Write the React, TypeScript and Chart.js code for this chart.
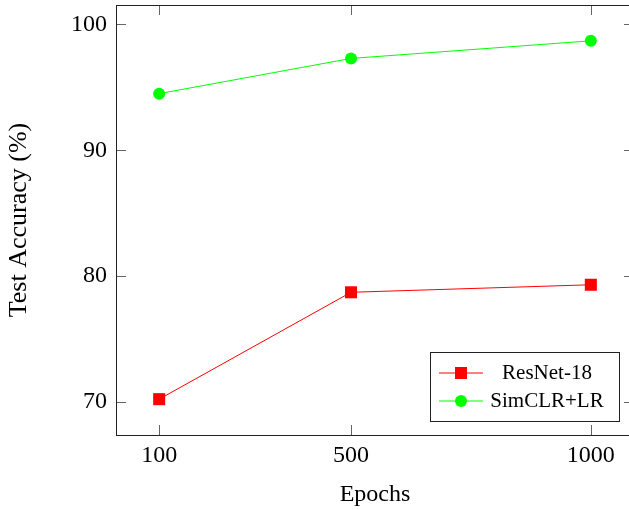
import React, { useEffect, useRef } from "react";
import { Chart, registerables } from "chart.js";

Chart.register(...registerables);

const epochs = [100, 500, 1000];
const resnet18 = [70.2, 78.7, 79.3];
const simclrLR = [94.5, 97.3, 98.7];
const xTicks = [100, 500, 1000];
const yTicks = [70, 80, 90, 100];
const seriesNames = ["ResNet-18", "SimCLR+LR"];

const FONT = "'Liberation Serif', 'Times New Roman', serif";

const framePlugin = {
  id: "pgfFrame",
  beforeDatasetsDraw(chart: any) {
    const { ctx, chartArea: a, scales } = chart;
    const x = scales.x;
    const y = scales.y;
    ctx.save();
    ctx.strokeStyle = "#666";
    ctx.lineWidth = 1;
    const tl = 10;
    ctx.beginPath();
    xTicks.forEach((v) => {
      const px = Math.round(x.getPixelForValue(v)) + 0.5;
      ctx.moveTo(px, a.bottom);
      ctx.lineTo(px, a.bottom - tl);
      ctx.moveTo(px, a.top);
      ctx.lineTo(px, a.top + tl);
    });
    yTicks.forEach((v) => {
      const py = Math.round(y.getPixelForValue(v)) + 0.5;
      ctx.moveTo(a.left, py);
      ctx.lineTo(a.left + tl, py);
      ctx.moveTo(a.right, py);
      ctx.lineTo(a.right - tl, py);
    });
    ctx.stroke();
    ctx.strokeStyle = "#222";
    ctx.strokeRect(Math.round(a.left) + 0.5, Math.round(a.top) + 0.5, Math.round(a.right - a.left), Math.round(a.bottom - a.top));
    ctx.restore();
  },
  afterDraw(chart: any) {
    const { ctx } = chart;
    const bx = 430.5, by = 352.5, bw = 189, bh = 69;
    ctx.save();
    ctx.fillStyle = "#fff";
    ctx.fillRect(bx, by, bw, bh);
    ctx.strokeStyle = "#222";
    ctx.lineWidth = 1;
    ctx.strokeRect(bx, by, bw, bh);
    const rows = [373, 401];
    const colors = ["#ff0000", "#00ff00"];
    rows.forEach((ry, i) => {
      ctx.strokeStyle = colors[i];
      ctx.fillStyle = colors[i];
      ctx.beginPath();
      ctx.moveTo(439, ry);
      ctx.lineTo(483, ry);
      ctx.stroke();
      if (i === 0) {
        ctx.fillRect(461 - 6, ry - 6, 12, 12);
      } else {
        ctx.beginPath();
        ctx.arc(461, ry, 6, 0, Math.PI * 2);
        ctx.fill();
      }
      ctx.fillStyle = "#000";
      ctx.font = `21px ${FONT}`;
      ctx.textAlign = "center";
      ctx.textBaseline = "middle";
      ctx.fillText(seriesNames[i], 547, ry);
    });
    ctx.restore();
  },
};

const zeroPad = (s: any) => {
  s.paddingTop = 0;
  s.paddingBottom = 0;
  s.paddingLeft = 0;
  s.paddingRight = 0;
};

export default function App() {
  const ref = useRef<HTMLCanvasElement | null>(null);
  useEffect(() => {
    document.body.style.overflow = "hidden";
    const chart = new Chart(ref.current as HTMLCanvasElement, {
      type: "line",
      data: {
        datasets: [
          {
            label: seriesNames[0],
            data: epochs.map((e, i) => ({ x: e, y: resnet18[i] })),
            borderColor: "#ff0000",
            backgroundColor: "#ff0000",
            borderWidth: 1,
            pointStyle: "rect",
            pointRadius: 8.5,
            pointBorderWidth: 0,
            tension: 0,
          },
          {
            label: seriesNames[1],
            data: epochs.map((e, i) => ({ x: e, y: simclrLR[i] })),
            borderColor: "#00ff00",
            backgroundColor: "#00ff00",
            borderWidth: 1,
            pointStyle: "circle",
            pointRadius: 6,
            pointBorderWidth: 0,
            tension: 0,
          },
        ],
      },
      options: {
        animation: false,
        responsive: false,
        maintainAspectRatio: false,
        layout: { autoPadding: false, padding: { top: 5, right: 6, left: 0, bottom: 0 } },
        plugins: { legend: { display: false }, tooltip: { enabled: false } },
        scales: {
          x: {
            type: "linear",
            min: 10,
            max: 1090,
            grid: { display: false, drawTicks: false },
            border: { display: false },
            afterBuildTicks: (s: any) => {
              s.ticks = xTicks.map((v) => ({ value: v }));
            },
            afterFit: (s: any) => {
              s.height = 75;
              zeroPad(s);
            },
            ticks: {
              color: "#000",
              font: { family: FONT, size: 24 },
              padding: 6,
              maxRotation: 0,
              autoSkip: false,
              callback: (v: any) => String(v),
            },
            title: {
              display: true,
              text: "Epochs",
              color: "#000",
              font: { family: FONT, size: 24 },
              padding: { top: 0, bottom: 1 },
            },
          },
          y: {
            type: "linear",
            min: 67.35,
            max: 101.55,
            grid: { display: false, drawTicks: false },
            border: { display: false },
            afterBuildTicks: (s: any) => {
              s.ticks = yTicks.map((v) => ({ value: v }));
            },
            afterFit: (s: any) => {
              s.width = 116;
              zeroPad(s);
            },
            ticks: {
              color: "#000",
              font: { family: FONT, size: 24 },
              padding: 9,
              autoSkip: false,
              callback: (v: any) => String(v),
            },
            title: {
              display: true,
              text: "Test Accuracy (%)",
              color: "#000",
              font: { family: FONT, size: 26 },
              padding: { top: 4, bottom: 0 },
            },
          },
        },
      },
      plugins: [framePlugin],
    });
    return () => chart.destroy();
  }, []);
  return (
    <div style={{ position: "fixed", left: 0, top: 0, width: 640, height: 510, background: "#fff" }}>
      <canvas ref={ref} width={640} height={510} style={{ width: 640, height: 510, display: "block" }} />
    </div>
  );
}
